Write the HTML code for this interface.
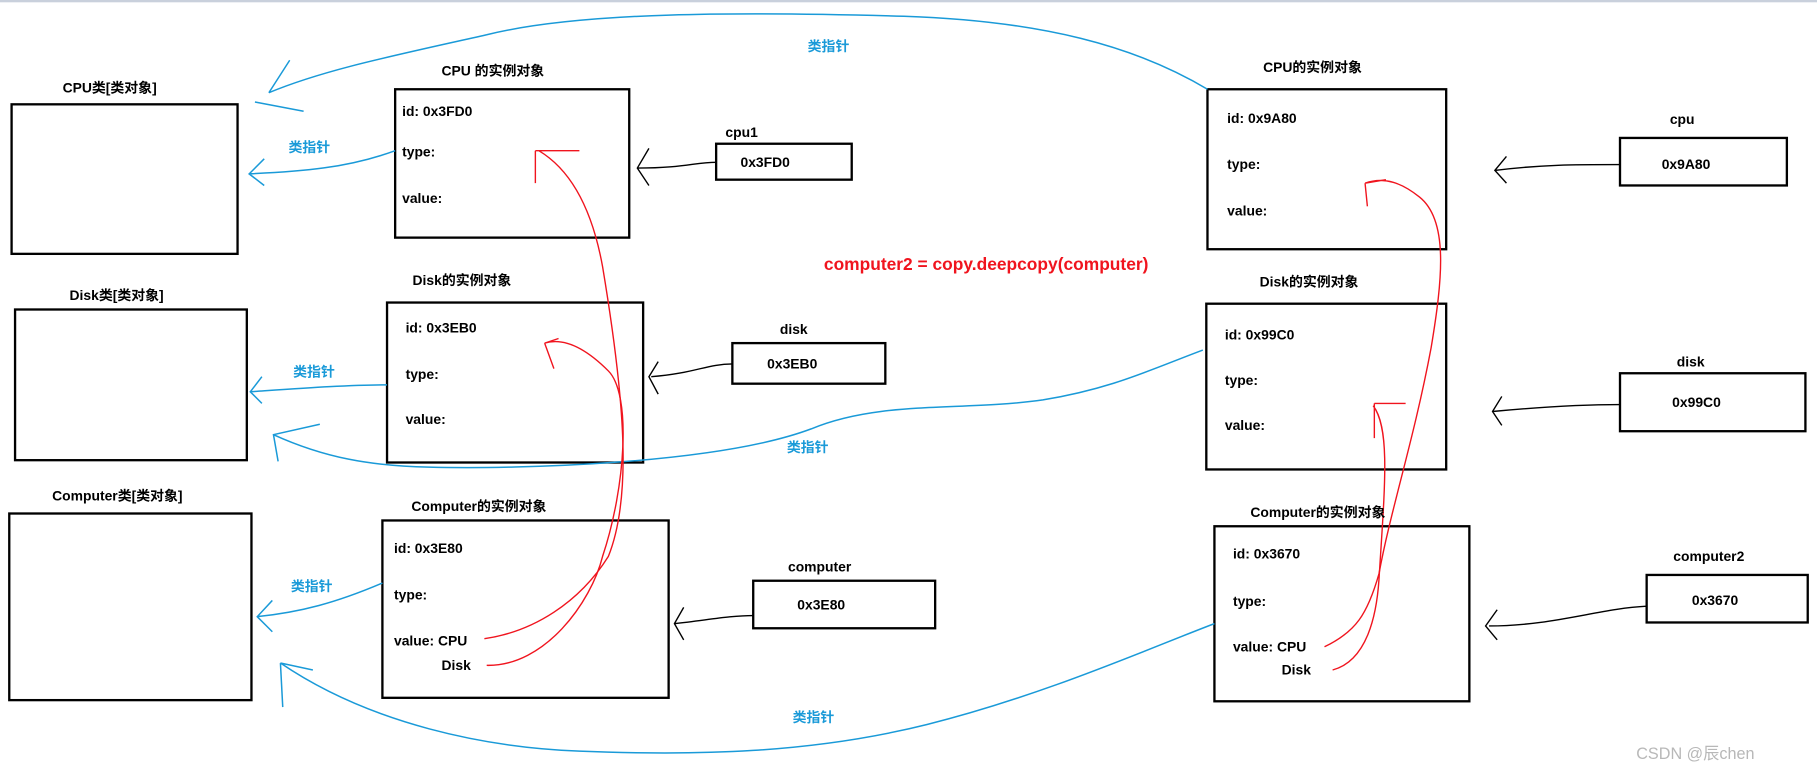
<!DOCTYPE html>
<html><head><meta charset="utf-8"><style>
html,body{margin:0;padding:0;background:#fff;}
svg{display:block}
text{font-family:"Liberation Sans","Noto Sans CJK SC",sans-serif;font-weight:bold;font-size:12px;fill:#000}
.b{fill:#1a9ad8}
.r{fill:#f0141e;font-size:15px}
</style></head><body>
<svg width="1817" height="772" viewBox="0 0 1568 666" preserveAspectRatio="none" xmlns="http://www.w3.org/2000/svg">
<rect x="0" y="0" width="1568" height="2" fill="#c9d0dc"/>
<g fill="none" stroke="#000" stroke-width="2">
<rect x="10" y="90" width="195" height="129"/>
<rect x="13" y="267" width="200" height="130"/>
<rect x="8" y="443" width="209" height="161"/>
<rect x="341" y="77" width="202" height="128"/>
<rect x="334" y="261" width="221" height="138"/>
<rect x="330" y="449" width="247" height="153"/>
<rect x="618" y="124" width="117" height="31"/>
<rect x="632" y="296" width="132" height="35"/>
<rect x="650" y="501" width="157" height="41"/>
<rect x="1042" y="77" width="206" height="138"/>
<rect x="1041" y="262" width="207" height="143"/>
<rect x="1048" y="454" width="220" height="151"/>
<rect x="1398" y="119" width="144" height="41"/>
<rect x="1398" y="322" width="160" height="50"/>
<rect x="1421" y="496" width="139" height="41"/>
</g>
<g fill="none" stroke="#000" stroke-width="1.2">
<path d="M618 140 C600 140 590 145 550 145 M560 128 L550 145 L560 160"/>
<path d="M632 314 C610 314 600 322 562 325 M568 312 L560 325 L568 340"/>
<path d="M650 531 C630 531 610 535 582 538 M590 524 L582 538 L590 552"/>
<path d="M1398 142 C1360 142 1330 142 1290 147 M1300 135 L1290 147 L1300 158"/>
<path d="M1398 349 C1360 349 1320 352 1288 355 M1296 342 L1288 355 L1296 367"/>
<path d="M1421 523 C1380 525 1340 540 1285 540 M1292 526 L1282 540 L1292 552"/>
</g>
<g fill="none" stroke="#1a9ad8" stroke-width="1.3">
<path d="M1042 77 C980 40 900 18 780 14 C640 10 500 10 420 30 C340 48 280 60 232 80 M250 52 L232 80 M220 88 L262 96"/>
<path d="M341 130 C300 145 260 148 215 150 M228 137 L215 150 L228 160"/>
<path d="M334 332 C300 332 260 335 216 338 M226 325 L216 338 L226 348"/>
<path d="M1038 302 C990 320 960 335 900 345 C830 355 760 345 700 370 C620 400 450 405 370 403 C320 402 280 395 236 375 M276 366 L236 375 L240 398"/>
<path d="M330 503 C290 520 260 528 222 532 M235 518 L222 532 L235 545"/>
<path d="M1048 538 C990 560 900 600 800 625 C700 650 600 652 500 648 C420 645 320 625 242 572 M242 572 L244 610 M242 572 L270 578"/>
</g>
<g fill="none" stroke="#f0141e" stroke-width="1.2">
<path d="M418 551 C460 545 500 520 525 480 C545 430 540 350 520 230 C510 175 490 145 465 130 M462 130 L500 130 M462 130 L462 158"/>
<path d="M420 574 C470 575 510 520 520 480 C540 420 545 340 525 320 C510 305 490 290 470 296 M470 296 L482 292 M470 296 L478 318"/>
<path d="M1143 558 C1170 545 1180 530 1190 495 C1200 440 1220 380 1235 300 C1245 240 1250 190 1225 170 C1210 158 1195 152 1178 158 M1178 158 L1196 155 M1178 158 L1180 178"/>
<path d="M1150 578 C1180 570 1188 530 1190 500 C1195 420 1200 370 1185 350 M1186 348 L1213 348 M1186 348 L1186 378"/>
</g>
<text x="54" y="80">CPU类[类对象]</text>
<text x="60" y="259">Disk类[类对象]</text>
<text x="45" y="432">Computer类[类对象]</text>
<text x="381" y="65">CPU 的实例对象</text>
<text x="347" y="100">id: 0x3FD0</text>
<text x="347" y="135">type:</text>
<text x="347" y="175">value:</text>
<text x="626" y="118">cpu1</text>
<text x="639" y="144">0x3FD0</text>
<text x="356" y="246">Disk的实例对象</text>
<text x="350" y="287">id: 0x3EB0</text>
<text x="350" y="327">type:</text>
<text x="350" y="366">value:</text>
<text x="673" y="288">disk</text>
<text x="662" y="318">0x3EB0</text>
<text x="355" y="441">Computer的实例对象</text>
<text x="340" y="477">id: 0x3E80</text>
<text x="340" y="517">type:</text>
<text x="340" y="557">value: CPU</text>
<text x="381" y="578">Disk</text>
<text x="680" y="493">computer</text>
<text x="688" y="526">0x3E80</text>
<text class="r" x="711" y="233">computer2 = copy.deepcopy(computer)</text>
<text x="1090" y="62">CPU的实例对象</text>
<text x="1059" y="106">id: 0x9A80</text>
<text x="1059" y="146">type:</text>
<text x="1059" y="186">value:</text>
<text x="1441" y="107">cpu</text>
<text x="1434" y="146">0x9A80</text>
<text x="1087" y="247">Disk的实例对象</text>
<text x="1057" y="293">id: 0x99C0</text>
<text x="1057" y="332">type:</text>
<text x="1057" y="371">value:</text>
<text x="1447" y="316">disk</text>
<text x="1443" y="351">0x99C0</text>
<text x="1079" y="446">Computer的实例对象</text>
<text x="1064" y="482">id: 0x3670</text>
<text x="1064" y="523">type:</text>
<text x="1064" y="562">value: CPU</text>
<text x="1106" y="582">Disk</text>
<text x="1444" y="484">computer2</text>
<text x="1460" y="522">0x3670</text>
<text class="b" x="697" y="44">类指针</text>
<text class="b" x="249" y="131">类指针</text>
<text class="b" x="253" y="325">类指针</text>
<text class="b" x="679" y="390">类指针</text>
<text class="b" x="251" y="510">类指针</text>
<text class="b" x="684" y="623">类指针</text>
<text x="1412" y="655" style="font-weight:normal;font-size:14px;fill:#b8b8b8">CSDN @辰chen</text>
</svg>
</body></html>
